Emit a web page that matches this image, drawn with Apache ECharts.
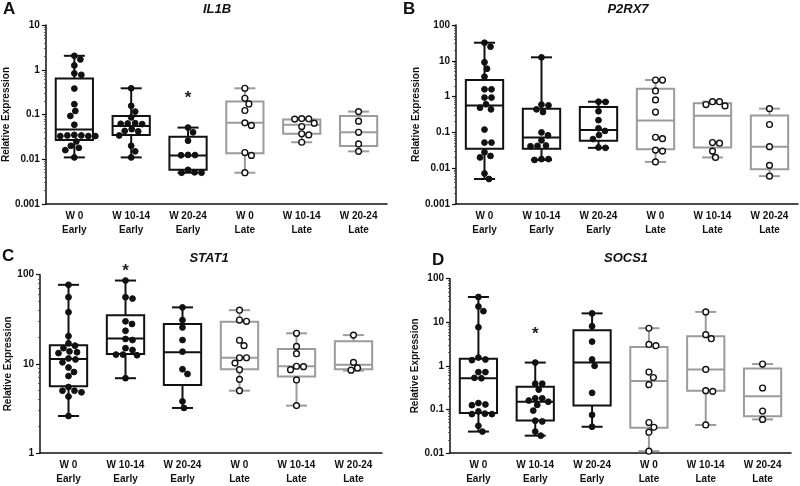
<!DOCTYPE html>
<html>
<head>
<meta charset="utf-8">
<script src="https://cdn.jsdelivr.net/npm/echarts@6/dist/echarts.min.js"></script>
<style>html,body{margin:0;padding:0;background:#fff}#c{width:800px;height:486px}</style>
</head>
<body>
<div id="c"></div>
<script>
// ---------- categories / labels ----------
const categories = ['W 0\nEarly','W 10-14\nEarly','W 20-24\nEarly','W 0\nLate','W 10-14\nLate','W 20-24\nLate'];
const panelTitles = ['IL1B','P2RX7','STAT1','SOCS1'];
const panelLetters = ['A','B','C','D'];
const yName = 'Relative Expression';
const yRanges = [[0.001,10],[0.001,100],[1,100],[0.01,100]];

// ---------- IL1B ----------  box: [min, q1, median, q3, max]
const il1bBoxes = [
  [0.011, 0.027, 0.046, 0.64, 2.05],
  [0.011, 0.035, 0.055, 0.092, 0.385],
  [0.005, 0.0058, 0.0122, 0.032, 0.051],
  [0.005, 0.0137, 0.065, 0.195, 0.385],
  [0.024, 0.037, 0.059, 0.077, 0.08],
  [0.015, 0.0197, 0.04, 0.092, 0.116]
];
const il1bPoints = [
  [2.05, 1.7, 1.25, 0.83, 0.77, 0.38, 0.17, 0.12, 0.093, 0.059, 0.035, 0.034, 0.033, 0.033, 0.034, 0.033, 0.025, 0.020, 0.018, 0.016, 0.011],
  [0.385, 0.156, 0.116, 0.086, 0.064, 0.063, 0.062, 0.061, 0.047, 0.043, 0.042, 0.034, 0.020, 0.015, 0.011],
  [0.051, 0.040, 0.026, 0.0125, 0.0124, 0.0123, 0.0058, 0.0051, 0.005, 0.005],
  [0.385, 0.23, 0.172, 0.123, 0.065, 0.057, 0.0141, 0.0122, 0.005],
  [0.08, 0.079, 0.081, 0.064, 0.054, 0.037, 0.035, 0.024],
  [0.116, 0.071, 0.04, 0.022, 0.015]
];
const il1bStars = [[2, 0.28]];

// ---------- P2RX7 ----------
const p2rx7Boxes = [
  [0.005, 0.035, 0.56, 2.9, 32],
  [0.017, 0.035, 0.072, 0.46, 12.5],
  [0.037, 0.058, 0.117, 0.51, 0.72],
  [0.015, 0.034, 0.214, 1.67, 2.9],
  [0.02, 0.038, 0.29, 0.65, 0.72],
  [0.006, 0.0094, 0.04, 0.295, 0.46]
];
const p2rx7Points = [
  [32, 24.8, 9.1, 6.0, 3.6, 1.6, 1.6, 0.94, 0.94, 0.61, 0.49, 0.44, 0.12, 0.052, 0.052, 0.028, 0.022, 0.020, 0.0071, 0.005],
  [12.5, 0.6, 0.57, 0.44, 0.37, 0.1, 0.083, 0.06, 0.043, 0.042, 0.041, 0.018, 0.017, 0.018],
  [0.72, 0.71, 0.39, 0.22, 0.13, 0.11, 0.084, 0.065, 0.038, 0.037],
  [2.9, 2.9, 1.44, 0.81, 0.37, 0.073, 0.067, 0.032, 0.030, 0.015],
  [0.72, 0.72, 0.6, 0.55, 0.052, 0.05, 0.030, 0.02],
  [0.46, 0.166, 0.04, 0.012, 0.006]
];
const p2rx7Stars = [];

// ---------- STAT1 ----------
const stat1Boxes = [
  [2.6, 5.6, 11.3, 16.2, 77],
  [6.9, 12.9, 19.3, 35.2, 86],
  [3.2, 5.8, 13.5, 28, 43],
  [5.0, 8.7, 11.7, 29.7, 40],
  [3.4, 7.2, 9.4, 14.7, 22],
  [8.4, 8.7, 9.75, 17.9, 21]
];
const stat1Points = [
  [77, 56, 38, 20.5, 17, 16, 15, 13.8, 13.5, 13.2, 11.5, 11.2, 10.4, 9.1, 8.1, 7.3, 5.5, 5.0, 4.8, 5.0, 4.3, 2.6],
  [86, 56, 54, 30, 28, 23.5, 19, 18.5, 15, 14.3, 12.7, 12.5, 12.7, 6.9],
  [43, 31, 25.6, 18.5, 13.7, 8.7, 7.7, 3.8, 3.2],
  [40, 31, 30, 18.4, 16, 11.7, 11.7, 10.2, 8.6, 6.7, 5.0],
  [22, 15.7, 13, 9.4, 9.3, 8.6, 6.6, 3.4],
  [21, 10.4, 9.0, 8.5]
];
const stat1Stars = [[1, 122]];

// ---------- SOCS1 ----------
const socs1Boxes = [
  [0.031, 0.083, 0.52, 1.46, 38],
  [0.025, 0.056, 0.15, 0.33, 1.19],
  [0.04, 0.123, 1.2, 6.6, 16],
  [0.011, 0.038, 0.45, 2.7, 7.3],
  [0.044, 0.27, 0.83, 4.8, 17.3],
  [0.059, 0.07, 0.2, 0.87, 1.1]
];
const socs1Points = [
  [38, 23, 18, 7.7, 1.55, 1.4, 1.35, 0.72, 0.72, 0.53, 0.52, 0.14, 0.13, 0.125, 0.09, 0.08, 0.078, 0.078, 0.042, 0.031],
  [1.19, 0.39, 0.39, 0.285, 0.18, 0.18, 0.16, 0.15, 0.127, 0.094, 0.055, 0.053, 0.031, 0.025],
  [16, 8.1, 3.6, 1.4, 1.0, 0.24, 0.075, 0.04],
  [7.3, 3.1, 2.9, 0.72, 0.54, 0.37, 0.05, 0.039, 0.030, 0.011],
  [17.3, 5.2, 4.2, 0.83, 0.27, 0.26, 0.044],
  [1.1, 0.31, 0.092, 0.059]
];
const socs1Stars = [[1, 6.4]];

// ---------- styling / layout ----------
const FONT = '"Liberation Sans", Arial, Helvetica, sans-serif';
const INK = '#111111';
const EARLY = '#111111';
const LATE = '#9b9b9b';
const R = 2.9, DIST = 6.8;
const grids = [
  {left: 45, top: 25, width: 342, height: 179},
  {left: 456, top: 25, width: 342, height: 179},
  {left: 40, top: 274.7, width: 342, height: 179.3},
  {left: 450, top: 278.7, width: 341, height: 178.6}
];
const nameGaps = [33, 33, 24, 26];
const titlePos = [[217, 3], [628, 3], [209, 252], [626, 252]];
const letterPos = [[3, 1], [403, 1], [2, 248], [432, 252]];

const allBoxes = [il1bBoxes, p2rx7Boxes, stat1Boxes, socs1Boxes];
const allPoints = [il1bPoints, p2rx7Points, stat1Points, socs1Points];
const allStars = [il1bStars, p2rx7Stars, stat1Stars, socs1Stars];

function fmt(v){ return String(parseFloat(Number(v).toPrecision(6))); }

function swarm(ys){
  const order = ys.map((y,i)=>i).sort((a,b)=>ys[a]-ys[b]);
  const offs = new Array(ys.length).fill(0);
  const placed = [];
  order.forEach(i=>{
    const y = ys[i];
    for (let t = 0; t < 200; t += 0.5) {
      const cands = t === 0 ? [0] : [t, -t];
      let found = null;
      for (const dx of cands) {
        let ok = true;
        for (const p of placed) {
          const ddx = dx - p[0], ddy = y - p[1];
          if (ddx*ddx + ddy*ddy < DIST*DIST - 0.01) { ok = false; break; }
        }
        if (ok) { found = dx; break; }
      }
      if (found !== null) { offs[i] = found; placed.push([found, y]); break; }
    }
  });
  return offs;
}

function boxRender(params, api){
  const cat = api.value(0);
  const v = [1,2,3,4,5].map(i=>api.value(i));
  const x = api.coord([cat, v[2]])[0];
  const band = api.coord([1, v[2]])[0] - api.coord([0, v[2]])[0];
  const bw = band*0.655, cw = band*0.37;
  const y = v.map(val=>api.coord([cat, val])[1]);
  const color = cat < 3 ? EARLY : LATE;
  const st = {stroke: color, lineWidth: 2, fill: null};
  const ln = (x1,y1,x2,y2)=>({type:'line', shape:{x1,y1,x2,y2}, style: st});
  return {type:'group', children:[
    ln(x, y[0], x, y[1]),
    ln(x, y[3], x, y[4]),
    ln(x-cw/2, y[0], x+cw/2, y[0]),
    ln(x-cw/2, y[4], x+cw/2, y[4]),
    {type:'rect', shape:{x:x-bw/2, y:y[3], width:bw, height:y[1]-y[3]}, style:{stroke:color, lineWidth:2, fill:'rgba(255,255,255,0)'}},
    ln(x-bw/2, y[2], x+bw/2, y[2])
  ]};
}

function pointsRender(groups){
  return function(params, api){
    const cat = api.value(0), k = api.value(2);
    const vals = groups[cat];
    const cx = api.coord([cat, vals[0]])[0];
    const ys = vals.map(val=>api.coord([cat, val])[1]);
    const offs = swarm(ys);
    const filled = cat < 3;
    return {type:'circle', shape:{cx: cx + offs[k], cy: ys[k], r: R},
      style: filled ? {fill: INK, stroke: INK, lineWidth: 1}
                    : {fill: '#ffffff', stroke: INK, lineWidth: 1.4}};
  };
}

function starRender(params, api){
  const p = api.coord([api.value(0), api.value(1)]);
  return {type:'text', x: p[0], y: p[1] + 4,
    style:{text:'*', fill:'#222', font:'bold 17px ' + FONT, align:'center', verticalAlign:'middle'}};
}

const option = {
  animation: false,
  backgroundColor: '#ffffff',
  title: [],
  grid: grids.map(g=>Object.assign({containLabel:false}, g)),
  xAxis: [],
  yAxis: [],
  series: []
};

for (let i = 0; i < 4; i++) {
  option.title.push({text: panelTitles[i], left: titlePos[i][0], top: titlePos[i][1], textAlign: 'center',
    padding: 0, textStyle:{fontFamily: FONT, fontSize: 13, fontWeight: 'bold', fontStyle: 'italic', color: INK}});
  option.title.push({text: panelLetters[i], left: letterPos[i][0], top: letterPos[i][1], padding: 0,
    textStyle:{fontFamily: FONT, fontSize: 17, fontWeight: 'bold', color: INK}});
  option.xAxis.push({
    gridIndex: i, type: 'category', data: categories, boundaryGap: true,
    axisLine: {lineStyle: {color: INK, width: 1.5}},
    axisTick: {alignWithLabel: true, length: 4, lineStyle: {color: INK, width: 1.2}},
    axisLabel: {interval: 0, margin: 5, fontFamily: FONT, fontSize: 10, fontWeight: 'bold', color: INK, lineHeight: 14},
    splitLine: {show: false}
  });
  option.yAxis.push({
    gridIndex: i, type: 'log', logBase: 10, min: yRanges[i][0], max: yRanges[i][1],
    axisLine: {show: true, lineStyle: {color: INK, width: 1.5}},
    axisTick: {show: true, length: 4, lineStyle: {color: INK, width: 1.2}},
    minorTick: {show: true, splitNumber: 9, length: 2, lineStyle: {color: '#444', width: 0.8}},
    splitLine: {show: false},
    axisLabel: {margin: 6, fontFamily: FONT, fontSize: 10, fontWeight: 'bold', color: INK, formatter: fmt},
    name: yName, nameLocation: 'middle', nameGap: nameGaps[i],
    nameTextStyle: {fontFamily: FONT, fontSize: 10, fontWeight: 'bold', color: INK}
  });
  const boxData = allBoxes[i].map((b, c)=>[c].concat(b));
  option.series.push({type:'custom', xAxisIndex: i, yAxisIndex: i, renderItem: boxRender,
    encode: {x: 0, y: [1,2,3,4,5]}, data: boxData, z: 2, silent: true});
  const ptData = [];
  allPoints[i].forEach((g, c)=>g.forEach((v, k)=>ptData.push([c, v, k])));
  option.series.push({type:'custom', xAxisIndex: i, yAxisIndex: i, renderItem: pointsRender(allPoints[i]),
    encode: {x: 0, y: 1}, data: ptData, z: 3, silent: true});
  if (allStars[i].length) {
    option.series.push({type:'custom', xAxisIndex: i, yAxisIndex: i, renderItem: starRender, clip: false,
      encode: {x: 0, y: 1}, data: allStars[i], z: 4, silent: true});
  }
}

const chart = echarts.init(document.getElementById('c'), null, {renderer: 'canvas'});
chart.setOption(option);
</script>
</body>
</html>
